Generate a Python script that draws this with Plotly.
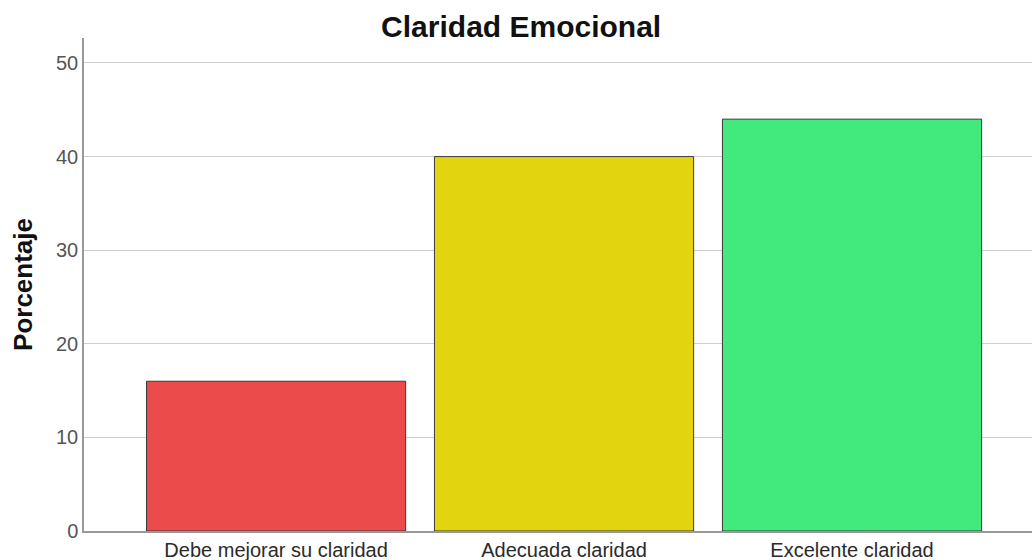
import plotly.graph_objects as go

categorias = ["Debe mejorar su claridad", "Adecuada claridad", "Excelente claridad"]
porcentajes = [16, 40, 44]
colores = ["#EC4B4C", "#E2D510", "#42E97D"]

fig = go.Figure()

fig.add_trace(go.Bar(
    x=categorias,
    y=porcentajes,
    marker=dict(color=colores, line=dict(color="#3a3a3a", width=1)),
    width=0.9,
    hoverinfo="x+y",
))

fig.update_layout(
    width=1032, height=560,
    margin=dict(l=84, r=0, t=38, b=29),
    paper_bgcolor="white",
    plot_bgcolor="white",
    font=dict(family="Liberation Sans, Arial, sans-serif", color="#222"),
    title=dict(
        text="<b>Claridad Emocional</b>",
        x=0.505, xanchor="center",
        y=0.952, yanchor="middle",
        font=dict(size=30, color="#111"),
    ),
    showlegend=False,
)

fig.update_xaxes(
    range=[-0.667, 2.625],
    showline=True, linecolor="#999", linewidth=1.5,
    showgrid=False, ticks="",
    tickfont=dict(size=20, color="#2a2a2a"),
)

fig.update_yaxes(
    range=[0, 52.67],
    tickvals=[0, 10, 20, 30, 40, 50],
    showline=True, linecolor="#999", linewidth=1.5,
    showgrid=True, gridcolor="#cfcfcf", gridwidth=1,
    zeroline=False, ticks="",
    tickfont=dict(size=20, color="#555"),
    title=dict(text="<b>Porcentaje</b>", font=dict(size=26, color="#111"), standoff=16),
)

# quitar el margen por defecto del body para que el gráfico quede en (0,0)
fig.write_html(
    "out.html",
    config={"displayModeBar": False},
    post_script="document.body.style.margin='0';",
)
